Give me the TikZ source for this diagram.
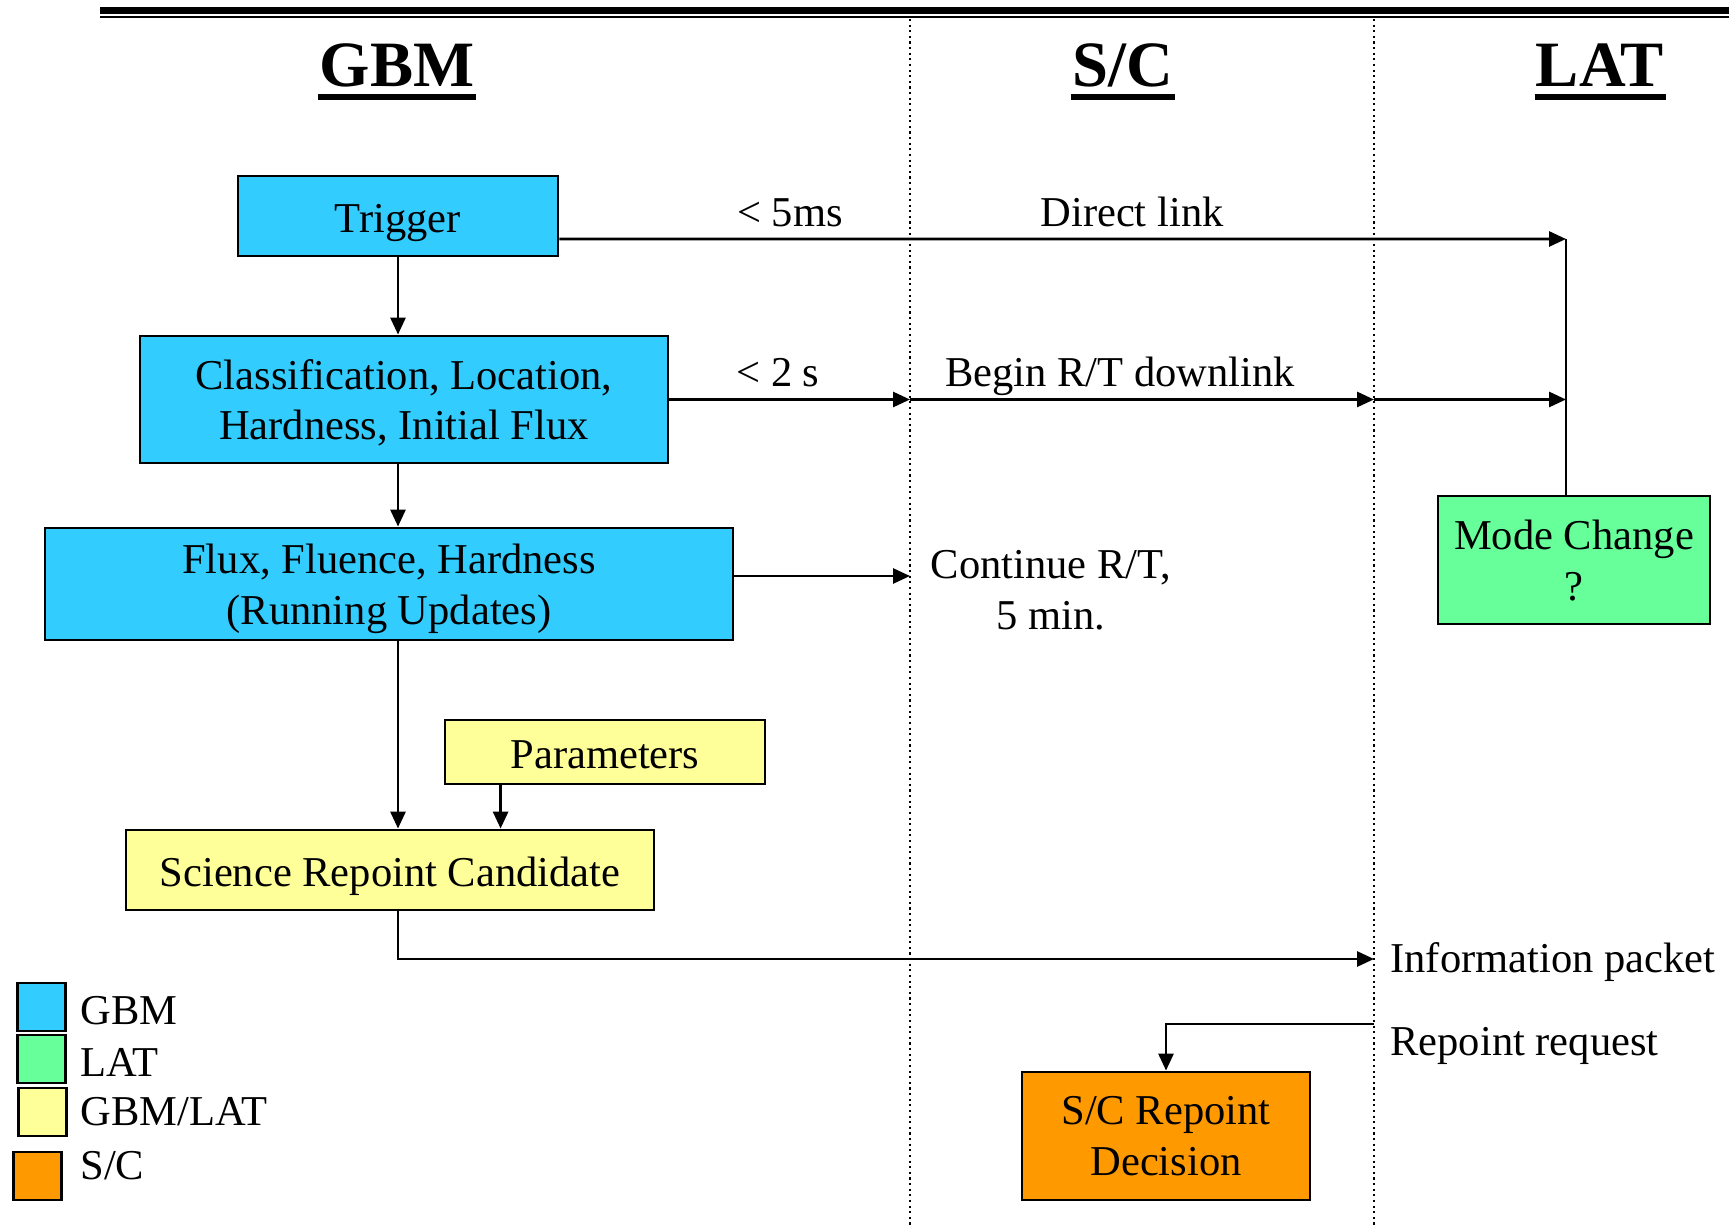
\documentclass[tikz,border=0pt]{standalone}
\usepackage{fontspec}
\setmainfont{Liberation Serif}
\usepackage{xcolor}
\usetikzlibrary{arrows.meta,positioning}
\definecolor{gbmblue}{HTML}{33CCFF}
\definecolor{latgreen}{HTML}{66FF99}
\definecolor{bothyellow}{HTML}{FFFF99}
\definecolor{scorange}{HTML}{FF9900}

\begin{document}
\begin{tikzpicture}[line width=0.8pt, >={Triangle[length=1.7mm, width=1.5mm]},
  blk/.style={draw, align=center, inner sep=0pt, font=\fontsize{12.1}{14.4}\selectfont},
  one/.style={text height=12pt, text depth=2.6pt},
  two/.style={text depth=-0.8pt},
  lbl/.style={inner sep=0pt, font=\fontsize{12.1}{14.4}\selectfont},
  head/.style={inner sep=0pt, font=\fontsize{18.4}{22}\selectfont\bfseries},
  key/.style={draw, minimum size=4.8mm, inner sep=0pt},
  sep/.style={line width=0.6pt, dash pattern=on 0.6pt off 1pt}]
\useasboundingbox (0,0) rectangle (17.29,-12.25);
% rules at the top and column separators
\draw[line width=2pt] (1.0,-0.103) -- (17.29,-0.103);
\draw[line width=0.6pt] (1.0,-0.172) -- (17.29,-0.172);
\coordinate (d1) at (9.10,-0.19); \coordinate (d2) at (13.74,-0.19);
\draw[sep] (d1) -- (9.10,-12.25);
\draw[sep] (d2) -- (13.74,-12.25);
% column heads
\node[head, anchor=base] (hgbm) at (3.97,-0.87) {GBM};
\node[head, anchor=base] (hsc) at (11.23,-0.87) {S/C};
\node[head, anchor=base] (hlat) at (16.00,-0.87) {LAT};
\foreach \h in {hgbm,hsc,hlat}
  \draw[line width=1.6pt] ([yshift=-1mm]\h.base west) -- ([yshift=-1mm]\h.base east);
% boxes
\node[blk, one, fill=gbmblue, minimum width=3.2cm, minimum height=8mm] (trig) at (3.98,-2.16) {Trigger};
\node[blk, two, fill=gbmblue, minimum width=5.28cm, minimum height=12.7mm] (cls) at (4.04,-3.995) {Classification, Location,\\Hardness, Initial Flux};
\node[blk, two, fill=gbmblue, minimum width=6.88cm, minimum height=11.2mm] (flux) at (3.89,-5.84) {Flux, Fluence, Hardness\\(Running Updates)};
\node[blk, one, fill=bothyellow, minimum width=3.2cm, minimum height=6.4mm] (par) at (6.05,-7.52) {Parameters};
\node[blk, one, fill=bothyellow, minimum width=5.28cm, minimum height=8mm] (src) at (3.90,-8.70) {Science Repoint Candidate};
\node[blk, two, fill=latgreen, minimum width=2.72cm, minimum height=12.8mm] (mode) at (15.74,-5.60) {Mode Change\\?};
\node[blk, two, fill=scorange, minimum width=2.88cm, minimum height=12.8mm] (dec) at (11.66,-11.36) {S/C Repoint\\Decision};
% link ends
\coordinate (lat) at (15.66,-2.39);
\coordinate (info) at (13.74,-9.59);
\coordinate (req) at (13.74,-10.24);
% connectors
\draw[->] (trig.south) -- (trig.south |- cls.north);
\draw[->] (trig.south |- cls.south) -- (trig.south |- flux.north);
\draw[->] (trig.south |- flux.south) -- (trig.south |- src.north);
\draw[->] ([xshift=5.7mm]par.south west) -- ([xshift=5.7mm]par.south west |- src.north);
\draw[->] ([yshift=-2.3mm]trig.east) -- (lat);
\draw (mode.north -| lat) -- (lat);
\draw[->] (cls.east) -- (cls.east -| d1);
\draw[->] (cls.east -| d1) -- (cls.east -| d2);
\draw[->] (cls.east -| d2) -- (cls.east -| lat);
\draw[->] ([yshift=0.8mm]flux.east) -- ([yshift=0.8mm]flux.east -| d1);
\draw[->] (trig.south |- src.south) |- (info);
\draw[->] (req) -| (dec.north);
% labels
\node[lbl, anchor=base] (l5ms) at (7.90,-2.27) {< 5ms};
\node[lbl, anchor=base] (ldir) at (11.32,-2.27) {Direct link};
\node[lbl, anchor=base] (l2s) at (7.78,-3.87) {< 2 s};
\node[lbl, anchor=base] (lbeg) at (11.20,-3.87) {Begin R/T downlink};
\node[lbl, align=center] (lcont) at (10.51,-5.90) {Continue R/T,\\5 min.};
\node[lbl, anchor=base west] (linfo) at (13.89,-9.73) {Information packet};
\node[lbl, anchor=base west] (lreq) at (13.89,-10.55) {Repoint request};
% legend
\foreach \i/\c/\x/\y in {1/gbmblue/0.415/10.07, 2/latgreen/0.415/10.59, 3/bothyellow/0.425/11.12, 4/scorange/0.375/11.76}
  \node[key, fill=\c] (k\i) at (\x,-\y) {};
\node[lbl, anchor=base west] (t1) at (0.79,-10.25) {GBM};
\node[lbl, anchor=base west] (t2) at (0.79,-10.77) {LAT};
\node[lbl, anchor=base west] (t3) at (0.79,-11.25) {GBM/LAT};
\node[lbl, anchor=base west] (t4) at (0.79,-11.80) {S/C};
\end{tikzpicture}
\end{document}
